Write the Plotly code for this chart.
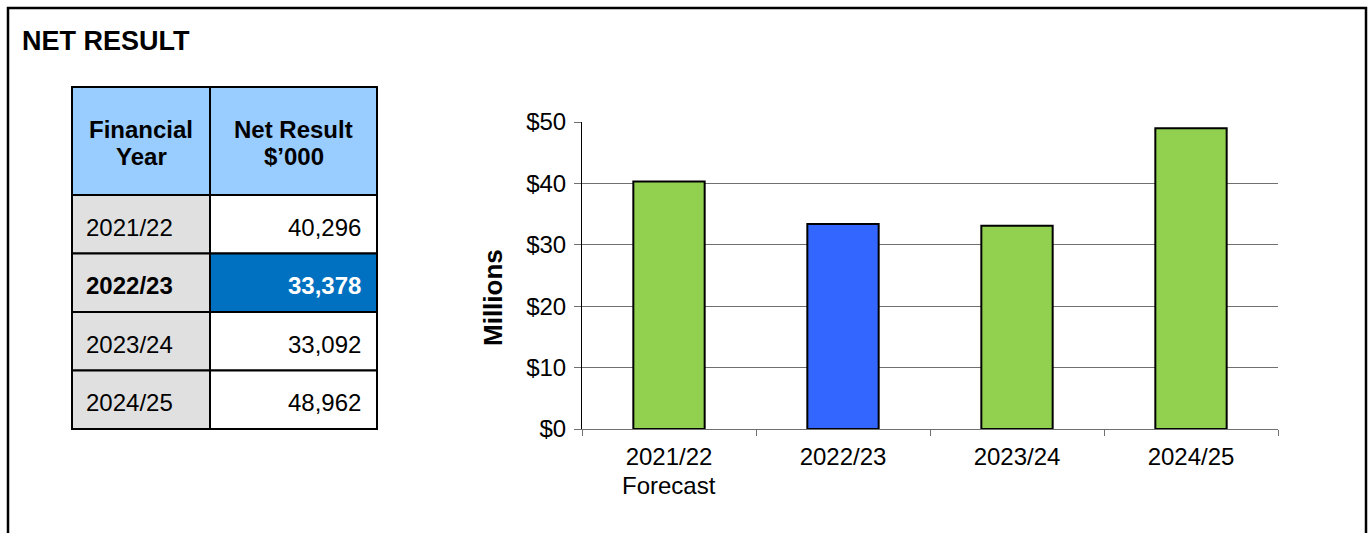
import plotly.graph_objects as go

# ---- data ----
years = ["2021/22", "2022/23", "2023/24", "2024/25"]
forecast_year = "2021/22"
net_result_k = [40296, 33378, 33092, 48962]   # $'000
highlight_year = "2022/23"
header_labels = ["Financial<br>Year", "Net Result<br>$’000"]
y_ticks = [0, 10, 20, 30, 40, 50]
y_tick_text = ["$0", "$10", "$20", "$30", "$40", "$50"]

W, H = 1371, 533
FONT = "Liberation Sans, Arial, sans-serif"
GREEN = "#92D050"
BLUE = "#3366FF"
HEADER_FILL = "#99CCFF"
YEAR_FILL = "#E0E0E0"
HIGHLIGHT_FILL = "#0070C0"
GRID = "#707070"


def px(x):
    return x / W


def py(y):
    return 1 - y / H


net_result_m = [v / 1000 for v in net_result_k]
bar_colors = [BLUE if y == highlight_year else GREEN for y in years]

fig = go.Figure()
fig.add_trace(go.Bar(
    x=years,
    y=net_result_m,
    marker=dict(color=bar_colors, line=dict(color="black", width=2)),
    hoverinfo="x+y",
))

shapes = []
annotations = []

# outer frame
shapes.append(dict(type="rect", xref="paper", yref="paper",
                   x0=px(8), x1=px(1366), y0=py(560), y1=py(8),
                   line=dict(color="black", width=2.5), layer="below"))

# title
annotations.append(dict(text="<b>NET RESULT</b>", xref="paper", yref="paper",
                        x=px(20), y=py(41), xanchor="left", yanchor="middle",
                        showarrow=False, font=dict(family=FONT, size=27, color="black")))

# ---- table ----
col_edges = [72, 210, 377]
row_edges = [87, 195, 253.5, 312, 370.5, 429]

# header cells
for c, label in enumerate(header_labels):
    x0, x1 = col_edges[c], col_edges[c + 1]
    shapes.append(dict(type="rect", xref="paper", yref="paper",
                       x0=px(x0), x1=px(x1), y0=py(row_edges[1]), y1=py(row_edges[0]),
                       fillcolor=HEADER_FILL, line=dict(color="black", width=2)))
    for i, line in enumerate(label.split("<br>")):
        annotations.append(dict(text=f"<b>{line}</b>", xref="paper", yref="paper",
                                x=px((x0 + x1) / 2), y=py(129.5 + 27 * i),
                                xanchor="center", yanchor="middle", showarrow=False,
                                font=dict(family=FONT, size=24, color="black")))

# body rows
for r, (yr, val) in enumerate(zip(years, net_result_k)):
    top, bot = row_edges[r + 1], row_edges[r + 2]
    hl = yr == highlight_year
    shapes.append(dict(type="rect", xref="paper", yref="paper",
                       x0=px(col_edges[0]), x1=px(col_edges[1]), y0=py(bot), y1=py(top),
                       fillcolor=YEAR_FILL, line=dict(color="black", width=2)))
    shapes.append(dict(type="rect", xref="paper", yref="paper",
                       x0=px(col_edges[1]), x1=px(col_edges[2]), y0=py(bot), y1=py(top),
                       fillcolor=HIGHLIGHT_FILL if hl else "white",
                       line=dict(color="black", width=2)))
    yc = py((top + bot) / 2 + 3)
    yr_txt = f"<b>{yr}</b>" if hl else yr
    val_txt = f"{val:,}"
    val_txt = f"<b>{val_txt}</b>" if hl else val_txt
    annotations.append(dict(text=yr_txt, xref="paper", yref="paper",
                            x=px(84), y=yc, xanchor="left", yanchor="middle",
                            showarrow=False, font=dict(family=FONT, size=24, color="black")))
    annotations.append(dict(text=val_txt, xref="paper", yref="paper",
                            x=px(363), y=yc, xanchor="right", yanchor="middle",
                            showarrow=False,
                            font=dict(family=FONT, size=24, color="white" if hl else "black")))

# y-axis title
annotations.append(dict(text="<b>Millions</b>", xref="paper", yref="paper",
                        x=px(493), y=py(297), xanchor="center", yanchor="middle",
                        textangle=-90, showarrow=False,
                        font=dict(family=FONT, size=26, color="black")))

# second line under the forecast year's tick label
annotations.append(dict(text="Forecast", xref="x", yref="paper",
                        x=forecast_year, y=py(485), xanchor="center", yanchor="middle",
                        showarrow=False, font=dict(family=FONT, size=24, color="black")))

fig.update_layout(
    template="none",
    width=W, height=H,
    autosize=False,
    margin=dict(l=0, r=0, t=0, b=0, pad=0, autoexpand=False),
    paper_bgcolor="white", plot_bgcolor="white",
    showlegend=False,
    bargap=0.59,
    font=dict(family=FONT, size=24, color="black"),
    shapes=shapes,
    annotations=annotations,
    xaxis=dict(
        domain=[px(582), px(1278)],
        automargin=False,
        showline=True, linecolor=GRID, linewidth=1,
        ticks="outside", tickson="boundaries", ticklen=6, tickcolor=GRID,
        ticklabelstandoff=6,
        tickfont=dict(family=FONT, size=24, color="black"),
        showgrid=False, fixedrange=True,
    ),
    yaxis=dict(
        domain=[py(429), py(122)],
        automargin=False,
        range=[0, 50], tickmode="array", tickvals=y_ticks, ticktext=y_tick_text,
        showline=True, linecolor="black", linewidth=1,
        ticks="outside", ticklen=7, tickcolor=GRID,
        ticklabelstandoff=3,
        showgrid=True, gridcolor=GRID, gridwidth=1,
        zeroline=False,
        tickfont=dict(family=FONT, size=24, color="black"),
        fixedrange=True,
    ),
)

fig.write_html("out.html")
